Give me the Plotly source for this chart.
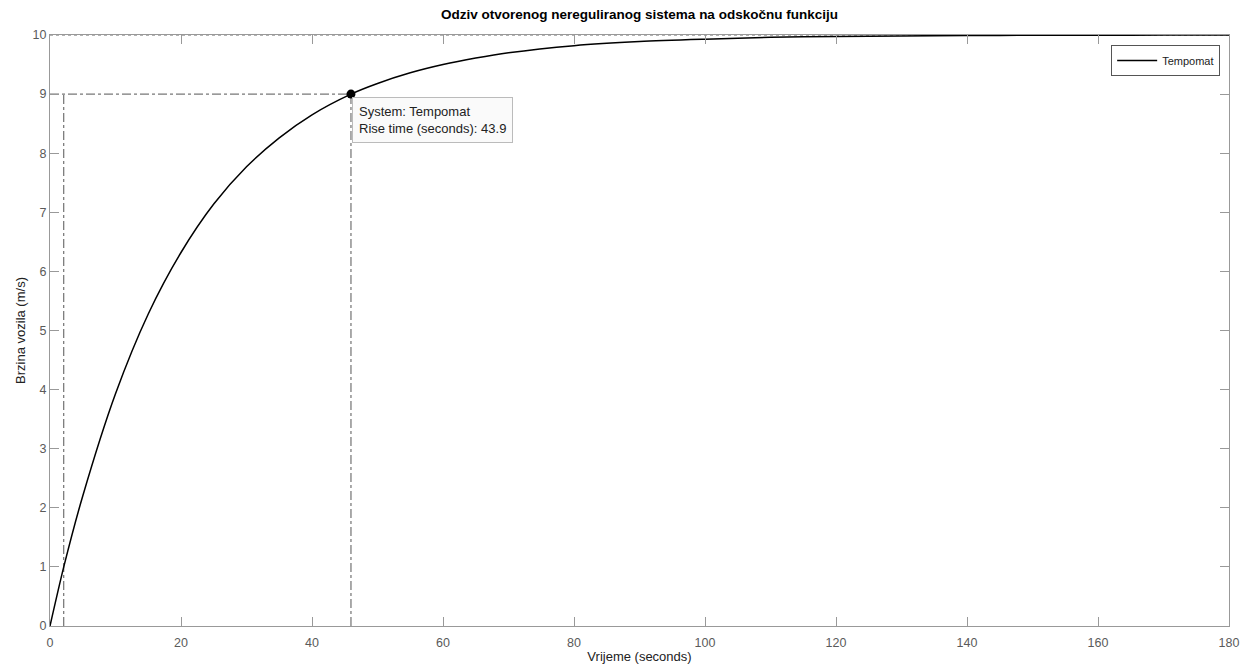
import plotly.graph_objects as go

# Step response values (time in s, speed in m/s)
t_vals = [0, 2.1, 5, 10, 15, 20, 25, 30, 35, 40, 45.95, 50, 55, 60, 65, 70,
          80, 90, 100, 110, 120, 130, 140, 150, 160, 170, 180]
y_vals = [0, 1.0, 2.2, 3.93, 5.28, 6.32, 7.14, 7.77, 8.26, 8.65, 9.0, 9.18,
          9.36, 9.5, 9.61, 9.70, 9.82, 9.89, 9.93, 9.96, 9.975, 9.985, 9.991,
          9.995, 9.997, 9.998, 9.999]

steady_value = 10
rise_low_t, rise_low_y = 2.1, 1.0
rise_high_t, rise_high_y = 45.95, 9.0
rise_time = 43.9

x_ticks = [0, 20, 40, 60, 80, 100, 120, 140, 160, 180]
y_ticks = [0, 1, 2, 3, 4, 5, 6, 7, 8, 9, 10]

FONT = "Liberation Sans, Arial, Helvetica, sans-serif"
fig = go.Figure()

# steady-state dotted line
fig.add_trace(go.Scatter(x=[0, 180], y=[steady_value, steady_value], mode="lines",
                         line=dict(color="#666666", width=1, dash="dot"),
                         showlegend=False, hoverinfo="skip"))
# rise-time guides
fig.add_trace(go.Scatter(x=[rise_low_t, rise_low_t], y=[0, rise_high_y], mode="lines",
                         line=dict(color="#555555", width=1, dash="dashdot"),
                         showlegend=False, hoverinfo="skip"))
fig.add_trace(go.Scatter(x=[rise_high_t, rise_high_t], y=[0, rise_high_y], mode="lines",
                         line=dict(color="#555555", width=1, dash="dashdot"),
                         showlegend=False, hoverinfo="skip"))
fig.add_trace(go.Scatter(x=[0, rise_high_t], y=[rise_high_y, rise_high_y], mode="lines",
                         line=dict(color="#555555", width=1, dash="dashdot"),
                         showlegend=False, hoverinfo="skip"))

# response curve
fig.add_trace(go.Scatter(x=t_vals, y=y_vals, mode="lines", name="Tempomat",
                         line=dict(color="black", width=1.5, shape="spline", smoothing=0.8)))
# marker
fig.add_trace(go.Scatter(x=[rise_high_t], y=[rise_high_y], mode="markers",
                         marker=dict(color="black", size=9), showlegend=False))

fig.add_annotation(x=rise_high_t, y=rise_high_y, xref="x", yref="y",
                   text=f"System: Tempomat<br>Rise time (seconds): {rise_time}",
                   showarrow=False, xanchor="left", yanchor="top", align="left",
                   xshift=1, yshift=-3,
                   font=dict(family=FONT, size=13, color="#222222"),
                   bgcolor="rgba(250,250,250,0.95)", bordercolor="#bbbbbb",
                   borderwidth=1, borderpad=6)

axis_common = dict(showgrid=False, zeroline=False, showline=True, linecolor="#999999",
                   linewidth=1, mirror="ticks", ticks="inside", ticklen=9,
                   automargin=False,
                   tickcolor="#999999", tickfont=dict(family=FONT, size=12.5, color="#5a5a5a"))

fig.update_layout(
    width=1242, height=664,
    margin=dict(l=50, r=13, t=35, b=38),
    paper_bgcolor="white", plot_bgcolor="white",
    title=dict(text="<b>Odziv otvorenog nereguliranog sistema na odskočnu funkciju</b>",
               x=0.5, xref="paper", xanchor="center", y=0.986, yanchor="top",
               font=dict(family=FONT, size=13.5, color="black")),
    xaxis=dict(range=[0, 180], tickvals=x_ticks, ticklabelstandoff=5,
               title=dict(text="Vrijeme (seconds)", standoff=2,
                          font=dict(family=FONT, size=13, color="#222222")),
               **axis_common),
    yaxis=dict(range=[0, 10], tickvals=y_ticks, ticksuffix="\u00a0\u00a0\u00a0",
               title=dict(text="Brzina vozila (m/s)", standoff=4,
                          font=dict(family=FONT, size=13, color="#222222")),
               **axis_common),
    legend=dict(x=0.9925, y=0.983, xanchor="right", yanchor="top",
                bgcolor="white", bordercolor="#555555", borderwidth=1,
                font=dict(family=FONT, size=11, color="#222222"),
                itemwidth=40, tracegroupgap=0),
    showlegend=True,
)

fig.write_html("out.html", config={"displayModeBar": False},
               post_script="document.body.style.margin='0';document.body.style.overflow='hidden';")
